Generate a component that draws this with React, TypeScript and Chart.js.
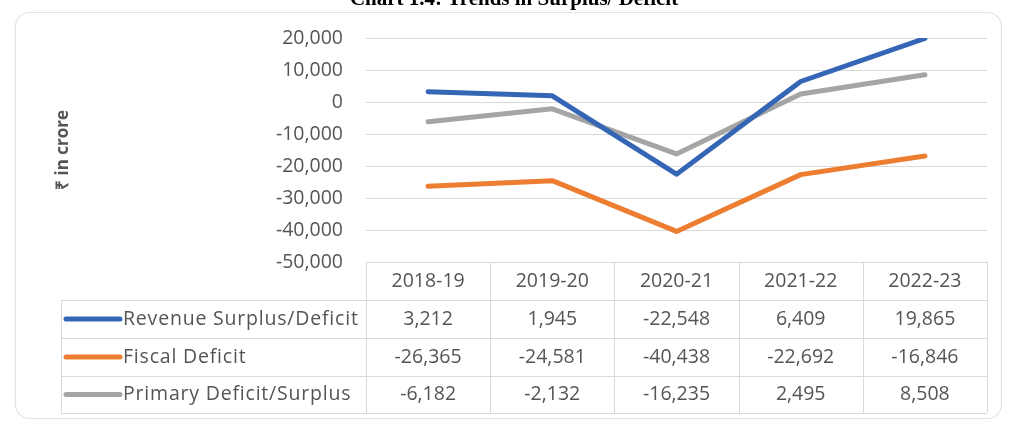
import React, { useEffect, useRef } from "react";
import { Chart, registerables } from "chart.js";

Chart.register(...registerables);

const categories = ["2018-19", "2019-20", "2020-21", "2021-22", "2022-23"];
const revenueSurplus = [3212, 1945, -22548, 6409, 19865];
const fiscalDeficit = [-26365, -24581, -40438, -22692, -16846];
const primaryDeficit = [-6182, -2132, -16235, 2495, 8508];
const seriesNames = ["Revenue Surplus/Deficit", "Fiscal Deficit", "Primary Deficit/Surplus"];
const seriesColors = ["#3566B5", "#ED7D31", "#A5A5A5"];
const yTitle = "₹ in crore";
const chartTitle = "Chart 1.4: Trends in Surplus/ Deficit";

const TEXT = "#555555";
const GRID = "#d9d9d9";
const FONT = "'Open Sans'";

const fmt = (v: number) => v.toLocaleString("en-US");

const tablePlugin = {
  id: "dataTable",
  beforeDraw(chart: any) {
    const ctx = chart.ctx;
    ctx.save();
    ctx.fillStyle = "#ffffff";
    ctx.fillRect(0, 0, chart.width, chart.height);
    ctx.strokeStyle = "#e3e3e3";
    ctx.lineWidth = 1.2;
    ctx.beginPath();
    (ctx as any).roundRect(15.5, 12.5, 986, 406, 14);
    ctx.stroke();
    ctx.fillStyle = "#000000";
    ctx.font = "bold 21px 'Liberation Serif'";
    ctx.textAlign = "center";
    ctx.textBaseline = "alphabetic";
    ctx.fillText(chartTitle, 514, 5);
    ctx.save();
    ctx.translate(63, 150);
    ctx.rotate(-Math.PI / 2);
    ctx.fillStyle = TEXT;
    ctx.font = `bold 17px ${FONT}`;
    ctx.textAlign = "center";
    ctx.textBaseline = "middle";
    ctx.fillText(yTitle, 0, 0);
    ctx.restore();
    ctx.restore();
  },
  afterDraw(chart: any) {
    const ctx = chart.ctx;
    const xs = chart.scales.x;
    const area = chart.chartArea;
    const n = categories.length;
    const colW = (area.right - area.left) / n;
    const top = area.bottom;
    const rowYs = [top, 300, 338, 376, 413];
    const legendLeft = 61;
    ctx.save();
    ctx.strokeStyle = GRID;
    ctx.lineWidth = 1;
    ctx.beginPath();
    ctx.moveTo(area.left, Math.round(rowYs[0]) + 0.5);
    ctx.lineTo(area.right, Math.round(rowYs[0]) + 0.5);
    for (let r = 1; r < rowYs.length; r++) {
      ctx.moveTo(legendLeft, rowYs[r] + 0.5);
      ctx.lineTo(area.right, rowYs[r] + 0.5);
    }
    ctx.moveTo(legendLeft + 0.5, rowYs[1]);
    ctx.lineTo(legendLeft + 0.5, rowYs[4]);
    for (let i = 0; i <= n; i++) {
      const x = Math.round(area.left + i * colW) + 0.5;
      ctx.moveTo(x, rowYs[0]);
      ctx.lineTo(x, rowYs[4]);
    }
    ctx.stroke();

    ctx.fillStyle = TEXT;
    ctx.font = `19.5px ${FONT}`;
    ctx.textAlign = "center";
    ctx.textBaseline = "middle";
    categories.forEach((c, i) => {
      const cx = xs.getPixelForValue(i);
      ctx.fillText(c, cx, (rowYs[0] + rowYs[1]) / 2);
    });
    const data = [revenueSurplus, fiscalDeficit, primaryDeficit];
    data.forEach((arr, r) => {
      const cy = (rowYs[r + 1] + rowYs[r + 2]) / 2;
      arr.forEach((v, i) => {
        ctx.fillText(fmt(v), xs.getPixelForValue(i), cy);
      });
      ctx.strokeStyle = seriesColors[r];
      ctx.lineWidth = 5;
      ctx.lineCap = "round";
      ctx.beginPath();
      ctx.moveTo(66, cy);
      ctx.lineTo(120, cy);
      ctx.stroke();
      ctx.textAlign = "left";
      (ctx as any).letterSpacing = "0.8px";
      ctx.fillText(seriesNames[r], 123, cy);
      (ctx as any).letterSpacing = "0px";
      ctx.textAlign = "center";
    });
    ctx.restore();
  },
};

export default function App() {
  const ref = useRef<HTMLCanvasElement>(null);
  useEffect(() => {
    if (!ref.current) return;
    const chart = new Chart(ref.current, {
      type: "line",
      data: {
        labels: categories,
        datasets: [revenueSurplus, fiscalDeficit, primaryDeficit].map((d, i) => ({
          label: seriesNames[i],
          data: d,
          borderColor: seriesColors[i],
          backgroundColor: seriesColors[i],
          borderWidth: 5,
          pointRadius: 0,
          tension: 0,
          borderJoinStyle: "round" as const,
          borderCapStyle: "round" as const,
        })),
      },
      options: {
        responsive: false,
        animation: false,
        layout: { padding: { top: 38, right: 23, bottom: 160, left: 0 } },
        plugins: { legend: { display: false }, tooltip: { enabled: false }, title: { display: false } },
        scales: {
          x: { display: false, offset: true },
          y: {
            min: -50000,
            max: 20000,
            afterFit: (scale: any) => {
              scale.width = 366;
            },
            ticks: {
              stepSize: 10000,
              padding: 23,
              color: TEXT,
              font: { family: "Open Sans", size: 19.5 },
              callback: (v: any) => fmt(Number(v)),
            },
            grid: { color: GRID, drawTicks: false, lineWidth: 1 },
            border: { display: false },
          },
        },
      },
      plugins: [tablePlugin],
    });
    return () => chart.destroy();
  }, []);
  return (
    <div style={{ position: "fixed", left: 0, top: 0, width: 1010, height: 422, background: "#fff" }}>
      <canvas ref={ref} width={1010} height={422} style={{ width: 1010, height: 422, display: "block" }} />
    </div>
  );
}
